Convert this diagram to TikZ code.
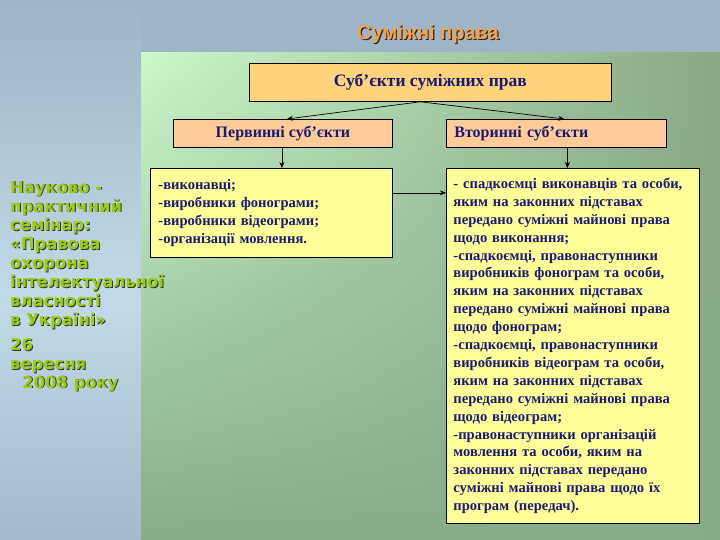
\documentclass[tikz,border=0pt]{standalone}
\usepackage{fontspec}
\setmainfont{Liberation Serif}
\newfontfamily\arialf{Liberation Sans}
\newfontfamily\verdf{DejaVu Sans}
\usetikzlibrary{arrows.meta,fadings}
\definecolor{bgblue}{HTML}{9FB4C4}
\definecolor{bgblueL}{HTML}{C2D9E8}
\definecolor{bgblueB}{HTML}{A2BACA}
\definecolor{grL}{HTML}{CCF8CC}
\definecolor{grR}{HTML}{8AA886}
\definecolor{grB}{HTML}{88AC88}
\definecolor{boxorange}{HTML}{FFD27D}
\definecolor{boxpeach}{HTML}{FFCC99}
\definecolor{boxyellow}{HTML}{FFFF99}
\definecolor{navy}{HTML}{1A1A73}
\definecolor{titleorange}{HTML}{F5A04A}
\definecolor{leftgreen}{HTML}{9ACC14}
\begin{document}
\begin{tikzpicture}[x=1pt,y=-1pt,
 box/.style={draw=black, line width=0.8pt, inner sep=0pt, text=navy, font=\bfseries},
 arr/.style={draw=black, line width=0.7pt, -{Stealth[length=6pt,width=5pt]}},
 titlefont/.style={font=\arialf\bfseries\fontsize{20}{24}\selectfont},
 sidefont/.style={font=\verdf\bfseries\fontsize{16.4}{18.9}\selectfont, align=left, inner sep=0pt, anchor=north west},
]
\useasboundingbox (0,0) rectangle (720,540);
\fill[bgblue] (0,0) rectangle (720,540);
\shade[top color=bgblue, bottom color=bgblueL] (0,0) rectangle (141,300);
\shade[top color=bgblueL, bottom color=bgblueB] (0,300) rectangle (141,540);
\shade[left color=grL, right color=grR] (141,53) rectangle (720,540);
\fill[grB, path fading=north] (141,53) rectangle (720,540);

% title
\node[titlefont, text=black!85] (titlesh) at (429.2,35.2) {Суміжні права};
\node[titlefont, text=titleorange] (title) at (428,34) {Суміжні права};

% side text
\node[sidefont, text=black!80] (sidesh) at (11,181.8) {Науково -\\практичний\\семінар:\\«Правова\\охорона\\інтелектуальної\\власності\\в Україні»};
\node[sidefont, text=leftgreen] (side) at (10,181) {Науково -\\практичний\\семінар:\\«Правова\\охорона\\інтелектуальної\\власності\\в Україні»};
\node[sidefont, text=black!80] (datesh) at (11,338.8) {26\\вересня\\\hspace*{12pt}2008 року};
\node[sidefont, text=leftgreen] (date) at (10,338) {26\\вересня\\\hspace*{12pt}2008 року};

% boxes
\node[box, fill=boxorange, minimum width=362, minimum height=38, anchor=north west,
      font=\bfseries\fontsize{17.5}{20}\selectfont] (top) at (249,63) {Суб’єкти суміжних прав};
\node[box, fill=boxpeach, minimum width=219, minimum height=28, anchor=north west,
      font=\bfseries\fontsize{16}{19}\selectfont] (p1) at (173,119) {Первинні суб’єкти};
\node[box, fill=boxpeach, minimum width=220, minimum height=28, anchor=north west,
      font=\bfseries\fontsize{16}{19}\selectfont, text width=204, align=left, inner xsep=8] (p2) at (446,119) {Вторинні суб’єкти};
\node[box, fill=boxyellow, minimum height=89, anchor=north west, text width=226, inner xsep=8,
      align=left, font=\bfseries\fontsize{14.6}{17.8}\selectfont] (y1) at (150,168)
 {-виконавці;\\-виробники фонограми;\\-виробники відеограми;\\-організації мовлення.};
\node[box, fill=boxyellow, minimum height=355, anchor=north west, text width=239, inner xsep=7,
      align=left, font=\bfseries\fontsize{14.6}{17.9}\selectfont] (y2) at (446,168)
 {- спадкоємці виконавців та особи,\\яким на законних підставах\\передано суміжні майнові права\\щодо виконання;\\-спадкоємці, правонаступники\\виробників фонограм та особи,\\яким на законних підставах\\передано суміжні майнові права\\щодо фонограм;\\-спадкоємці, правонаступники\\виробників відеограм та особи,\\яким на законних підставах\\передано суміжні майнові права\\щодо відеограм;\\-правонаступники організацій\\мовлення та особи, яким на\\законних підставах передано\\суміжні майнові права щодо їх\\програм (передач).};

% connectors
\coordinate (j) at ([xshift=-10pt]top.south);
\draw[arr] (j) -- ([xshift=4pt]p1.north);
\draw[arr] (j) -- ([xshift=8pt]p2.north);
\draw[arr] ([xshift=-1pt]p1.south) -- ([xshift=-1pt]p1.south |- y1.north);
\draw[arr] ([xshift=11pt]p2.south) -- ([xshift=11pt]p2.south |- y2.north);
\draw[arr] ([yshift=20pt]y1.east) coordinate (h) -- (h -| y2.west);
\end{tikzpicture}
\end{document}
